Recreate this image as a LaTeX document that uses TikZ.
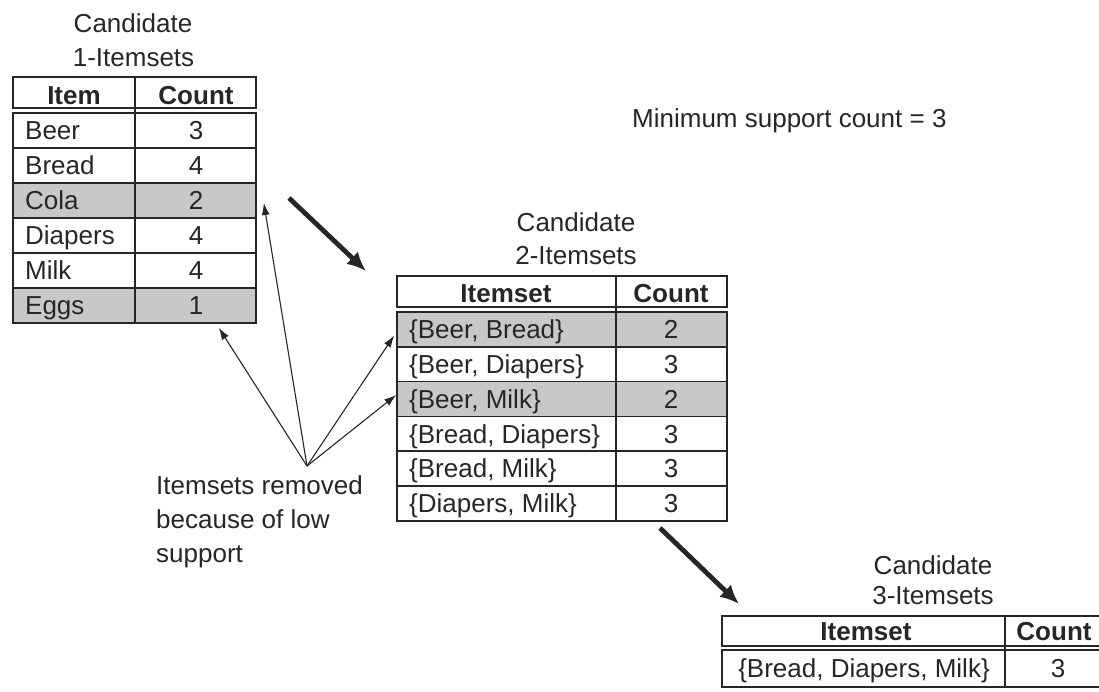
\documentclass[tikz,border=0pt]{standalone}
\usepackage{fontspec}
\setmainfont{Liberation Sans}
\usetikzlibrary{arrows.meta,calc}
\definecolor{ink}{HTML}{262626}
\definecolor{shade}{HTML}{C8C8C8}
\begin{document}
\begin{tikzpicture}[x=1pt,y=-1pt,
  lbl/.style={font=\fontsize{26}{34}\selectfont, text=ink, inner sep=0pt,
              text height=18.6pt, text depth=0pt},
  hdr/.style={lbl, font=\fontsize{26}{34}\selectfont\bfseries},
  rowbox/.style={draw=ink, line width=1.6pt, inner sep=0pt},
  lowrow/.style={rowbox, fill=shade},
  tabline/.style={draw=ink, line width=1.6pt},
  pointer/.style={draw=ink, line width=1.1pt, -{Latex[length=12pt,width=8pt]}},
  bigarrow/.style={draw=ink, line width=4.8pt, -{Latex[length=19pt,width=17pt]}}
]
\clip (0,0) rectangle (1099,692);

% ---------- candidate 1-itemsets ----------
\node[lbl] (c1t) at (133,23) {Candidate};
\node[lbl] (c1s) at (133.5,57) {1-Itemsets};
\node[rowbox, minimum width=243pt, minimum height=31pt] (t1h) at (134.5,92.5) {};
\node[rowbox, minimum width=243pt, minimum height=35pt] (t1r1) at (134.5,130.5) {};
\node[rowbox, minimum width=243pt, minimum height=35pt] (t1r2) at (134.5,165.5) {};
\node[lowrow, minimum width=243pt, minimum height=35pt] (t1r3) at (134.5,200.5) {};
\node[rowbox, minimum width=243pt, minimum height=35pt] (t1r4) at (134.5,235.5) {};
\node[rowbox, minimum width=243pt, minimum height=35pt] (t1r5) at (134.5,270.5) {};
\node[lowrow, minimum width=243pt, minimum height=35pt] (t1r6) at (134.5,305.5) {};
\draw[tabline] (135,77) -- (135,323);
\node[hdr] (t1hi) at (74,95) {Item};
\node[hdr] (t1hc) at (196,95) {Count};
\node[lbl, anchor=west] (t1n1) at (25,130.5) {Beer};
\node[lbl, anchor=west] (t1n2) at (25,165.5) {Bread};
\node[lbl, anchor=west] (t1n3) at (25,200.5) {Cola};
\node[lbl, anchor=west] (t1n4) at (25,235.5) {Diapers};
\node[lbl, anchor=west] (t1n5) at (25,270.5) {Milk};
\node[lbl, anchor=west] (t1n6) at (25,305.5) {Eggs};
\node[lbl] (t1c1) at (196,130.5) {3};
\node[lbl] (t1c2) at (196,165.5) {4};
\node[lbl] (t1c3) at (196,200.5) {2};
\node[lbl] (t1c4) at (196,235.5) {4};
\node[lbl] (t1c5) at (196,270.5) {4};
\node[lbl] (t1c6) at (196,305.5) {1};

% ---------- minimum support ----------
\node[lbl, anchor=west] (minsup) at (632,118) {Minimum support count = 3};

% ---------- candidate 2-itemsets ----------
\node[lbl] (c2t) at (576,222) {Candidate};
\node[lbl] (c2s) at (576,255) {2-Itemsets};
\node[rowbox, minimum width=330pt, minimum height=31pt] (t2h) at (562,291.5) {};
\node[lowrow, minimum width=330pt, minimum height=34.8pt] (t2r1) at (562,329.4) {};
\node[rowbox, minimum width=330pt, minimum height=34.8pt] (t2r2) at (562,364.2) {};
\node[lowrow, minimum width=330pt, minimum height=34.8pt] (t2r3) at (562,399.0) {};
\node[rowbox, minimum width=330pt, minimum height=34.8pt] (t2r4) at (562,433.8) {};
\node[rowbox, minimum width=330pt, minimum height=34.8pt] (t2r5) at (562,468.6) {};
\node[rowbox, minimum width=330pt, minimum height=34.8pt] (t2r6) at (562,503.4) {};
\draw[tabline] (616,276) -- (616,521);
\node[hdr] (t2hi) at (506,293.5) {Itemset};
\node[hdr] (t2hc) at (671,293.5) {Count};
\node[lbl, anchor=west] (t2n1) at (409,329.4) {\{Beer, Bread\}};
\node[lbl, anchor=west] (t2n2) at (409,364.2) {\{Beer, Diapers\}};
\node[lbl, anchor=west] (t2n3) at (409,399.0) {\{Beer, Milk\}};
\node[lbl, anchor=west] (t2n4) at (409,433.8) {\{Bread, Diapers\}};
\node[lbl, anchor=west] (t2n5) at (409,468.6) {\{Bread, Milk\}};
\node[lbl, anchor=west] (t2n6) at (409,503.4) {\{Diapers, Milk\}};
\node[lbl] (t2c1) at (671,329.4) {2};
\node[lbl] (t2c2) at (671,364.2) {3};
\node[lbl] (t2c3) at (671,399.0) {2};
\node[lbl] (t2c4) at (671,433.8) {3};
\node[lbl] (t2c5) at (671,468.6) {3};
\node[lbl] (t2c6) at (671,503.4) {3};

% ---------- candidate 3-itemsets ----------
\node[lbl] (c3t) at (933,565) {Candidate};
\node[lbl] (c3s) at (933,595) {3-Itemsets};
\node[rowbox, minimum width=383pt, minimum height=30pt] (t3h) at (913.5,631) {};
\node[rowbox, minimum width=383pt, minimum height=37pt] (t3r1) at (913.5,668.5) {};
\draw[tabline] (1005,616) -- (1005,687);
\node[hdr] (t3hi) at (866,631) {Itemset};
\node[hdr] (t3hc) at (1054,631) {Count};
\node[lbl] (t3n1) at (864,668.5) {\{Bread, Diapers, Milk\}};
\node[lbl] (t3c1) at (1058,668.5) {3};

% ---------- low-support annotation ----------
\node[lbl, text height=, text depth=, anchor=north west, align=left,
      font=\fontsize{26}{34}\selectfont] (note) at (156,475.5)
      {Itemsets removed\\because of low\\support};
\coordinate (src) at (307,466);
\draw[pointer] (src) -- ($(t1r6.south east)+(-38,4)$);
\draw[pointer] (src) -- ($(t1r3.east)+(7,2.5)$);
\draw[pointer] (src) -- ($(t2r1.west)+(-2,6)$);
\draw[pointer] (src) -- ($(t2r3.west)+(0,-4)$);

% ---------- step arrows ----------
\coordinate (f1a) at (289,198);
\coordinate (f1b) at (366,271);
\coordinate (f2a) at (660,528);
\coordinate (f2b) at (739,604);
\draw[bigarrow] (f1a) -- (f1b);
\draw[bigarrow] (f2a) -- (f2b);
\end{tikzpicture}
\end{document}
